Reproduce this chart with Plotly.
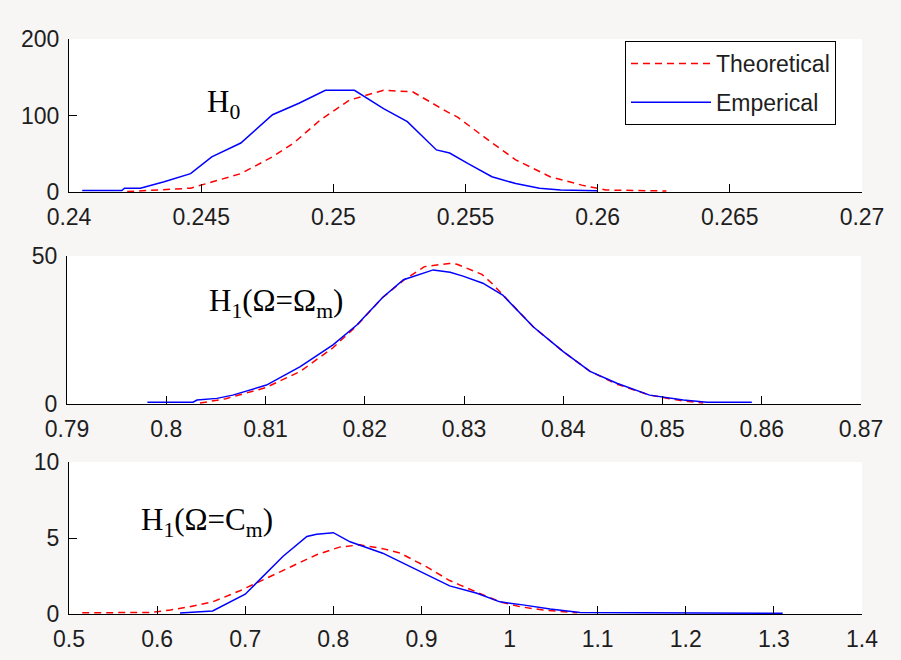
import plotly.graph_objects as go

# ---------------- data ----------------
# Panel 1: H0
h0_emp_x = [0.2405, 0.2420, 0.2421, 0.2427, 0.2436, 0.2446, 0.2454, 0.2465, 0.2477, 0.2487,
            0.2497, 0.2508, 0.2519, 0.2528, 0.2539, 0.2544, 0.2551, 0.2560, 0.2569, 0.2578,
            0.2586, 0.2600]
h0_emp_y = [2, 2, 5, 5, 13.5, 24, 46, 64, 101, 116,
            133, 133, 109, 92, 55, 51, 37, 20, 11, 5,
            2.6, 1.7]
h0_th_x = [0.2422, 0.2446, 0.2454, 0.2465, 0.2477, 0.2485, 0.2495, 0.2506, 0.2519, 0.2530,
           0.2544, 0.2547, 0.2557, 0.2569, 0.2582, 0.2594, 0.2603, 0.2626]
h0_th_y = [0.5, 5, 13, 24, 46, 64, 94, 120, 133, 131,
           103, 98, 72, 42, 20, 9, 2.6, 1.3]

# Panel 2: H1 (Omega = Omega_m)
h1a_emp_x = [0.7981, 0.8027, 0.8031, 0.8051, 0.8067, 0.8101, 0.8135, 0.8168, 0.8192, 0.8218,
             0.8239, 0.8269, 0.8286, 0.8299, 0.8319, 0.8339, 0.8370, 0.8400, 0.8427, 0.8454,
             0.8487, 0.8521, 0.8545, 0.8590]
h1a_emp_y = [0.6, 0.6, 1.35, 1.9, 3.0, 6.4, 12.6, 20, 26.7, 36,
             42, 45.3, 44.5, 43.2, 40.8, 36.8, 26, 17.7, 11, 7,
             3, 1.35, 0.6, 0.6]
h1a_th_x = [0.8034, 0.8060, 0.8100, 0.8135, 0.8168, 0.8192, 0.8218, 0.8240, 0.8260, 0.8285,
            0.8293, 0.8306, 0.8318, 0.8328, 0.8370, 0.8400, 0.8427, 0.8454, 0.8487, 0.8521,
            0.8541]
h1a_th_y = [0.3, 1.8, 5.5, 11, 19, 26.5, 36, 42, 46.4, 47.5,
            47.2, 45.5, 43.8, 40.8, 26, 17.7, 11, 6.7, 3, 1.0,
            0.3]

# Panel 3: H1 (Omega = C_m)
h1b_emp_x = [0.626, 0.663, 0.700, 0.743, 0.770, 0.781, 0.800, 0.819, 0.856, 0.895,
             0.932, 0.963, 0.989, 1.015, 1.046, 1.080, 1.310]
h1b_emp_y = [0.07, 0.2, 1.3, 3.8, 5.1, 5.25, 5.35, 4.75, 4.0, 2.9,
             1.85, 1.36, 0.8, 0.6, 0.33, 0.1, 0.05]
h1b_th_x = [0.515, 0.592, 0.615, 0.637, 0.663, 0.694, 0.724, 0.751, 0.781, 0.807,
            0.830, 0.856, 0.876, 0.906, 0.932, 0.944, 0.970, 0.989, 1.012, 1.038,
            1.077]
h1b_th_y = [0.08, 0.1, 0.26, 0.48, 0.8, 1.53, 2.35, 3.1, 3.9, 4.4,
            4.55, 4.3, 4.0, 3.1, 2.2, 1.9, 1.25, 0.8, 0.48, 0.26,
            0.08]

# Tick labels
x1_ticks = [0.24, 0.245, 0.25, 0.255, 0.26, 0.265, 0.27]
x1_labels = ["0.24", "0.245", "0.25", "0.255", "0.26", "0.265", "0.27"]
y1_ticks = [0, 100, 200]
x2_ticks = [0.79, 0.80, 0.81, 0.82, 0.83, 0.84, 0.85, 0.86, 0.87]
x2_labels = ["0.79", "0.8", "0.81", "0.82", "0.83", "0.84", "0.85", "0.86", "0.87"]
y2_ticks = [0, 50]
x3_ticks = [0.5, 0.6, 0.7, 0.8, 0.9, 1.0, 1.1, 1.2, 1.3, 1.4]
x3_labels = ["0.5", "0.6", "0.7", "0.8", "0.9", "1", "1.1", "1.2", "1.3", "1.4"]
y3_ticks = [0, 5, 10]

legend_names = ["Theoretical", "Emperical"]
panel_labels = ["H<sub>0</sub>", "H<sub>1</sub>(Ω=Ω<sub>m</sub>)", "H<sub>1</sub>(Ω=C<sub>m</sub>)"]

# ---------------- figure ----------------
RED = "#ff0000"
BLUE = "#0000ff"
DASH = "7px,5px"

fig = go.Figure()

panels = [
    (h0_th_x, h0_th_y, h0_emp_x, h0_emp_y, "x", "y"),
    (h1a_th_x, h1a_th_y, h1a_emp_x, h1a_emp_y, "x2", "y2"),
    (h1b_th_x, h1b_th_y, h1b_emp_x, h1b_emp_y, "x3", "y3"),
]
for i, (tx, ty, ex, ey, xa, ya) in enumerate(panels):
    fig.add_trace(go.Scatter(x=tx, y=ty, mode="lines", name=legend_names[0],
                             line=dict(color=RED, width=1.5, dash=DASH),
                             xaxis=xa, yaxis=ya, showlegend=(i == 0), legendgroup="a"))
    fig.add_trace(go.Scatter(x=ex, y=ey, mode="lines", name=legend_names[1],
                             line=dict(color=BLUE, width=1.5),
                             xaxis=xa, yaxis=ya, showlegend=(i == 0), legendgroup="b"))

W, H = 901, 660
def px_x(p):
    return p / W
def px_y(p):
    return 1 - p / H

tickfont = dict(family="Liberation Sans, Arial, sans-serif", size=23, color="#1e1e1e")
common_x = dict(showline=True, linecolor="black", linewidth=1, mirror=False,
                ticks="inside", ticklen=8, tickcolor="black", tickwidth=1,
                showgrid=False, zeroline=False, tickfont=tickfont, ticklabelstandoff=4,
                automargin=False)
common_y = dict(showline=True, linecolor="black", linewidth=1, mirror=False,
                ticks="inside", ticklen=8, tickcolor="black", tickwidth=1,
                showgrid=False, zeroline=False, tickfont=tickfont, ticklabelstandoff=4,
                automargin=False)

fig.update_layout(
    width=W, height=H,
    margin=dict(l=0, r=0, t=0, b=0, autoexpand=False),
    paper_bgcolor="#f8f6f5",
    plot_bgcolor="white",
    xaxis=dict(domain=[px_x(69), px_x(862)], range=[0.24, 0.27], anchor="y",
               tickvals=x1_ticks, ticktext=x1_labels, **common_x),
    yaxis=dict(domain=[px_y(192), px_y(39)], range=[0, 200], anchor="x",
               tickvals=y1_ticks, **common_y),
    xaxis2=dict(domain=[px_x(67), px_x(861)], range=[0.79, 0.87], anchor="y2",
                tickvals=x2_ticks, ticktext=x2_labels, **common_x),
    yaxis2=dict(domain=[px_y(404), px_y(256)], range=[0, 50], anchor="x2",
                tickvals=y2_ticks, **common_y),
    xaxis3=dict(domain=[px_x(69), px_x(862)], range=[0.5, 1.4], anchor="y3",
                tickvals=x3_ticks, ticktext=x3_labels, **common_x),
    yaxis3=dict(domain=[px_y(614), px_y(462)], range=[0, 10], anchor="x3",
                tickvals=y3_ticks, **common_y),
    showlegend=True,
    legend=dict(x=px_x(625), y=px_y(41), xanchor="left", yanchor="top",
                bgcolor="white", bordercolor="black", borderwidth=1,
                font=dict(family="Liberation Sans, Arial, sans-serif", size=23, color="#1e1e1e"),
                itemwidth=80, tracegroupgap=6),
)

serif = dict(family="Liberation Serif, Times New Roman, serif", size=31, color="black")
ann_pos = [(0.24514, 115, "x", "y"), (0.8041, 34.1, "x2", "y2"), (0.5794, 6.05, "x3", "y3")]
for label, (ax, ay, xr, yr) in zip(panel_labels, ann_pos):
    fig.add_annotation(x=ax, y=ay, xref=xr, yref=yr, text=label, showarrow=False,
                       xanchor="left", yanchor="middle", font=serif)

fig.write_html("out.html", config={"displayModeBar": False},
               post_script="document.body.style.margin='0px';document.body.style.padding='0px';")
